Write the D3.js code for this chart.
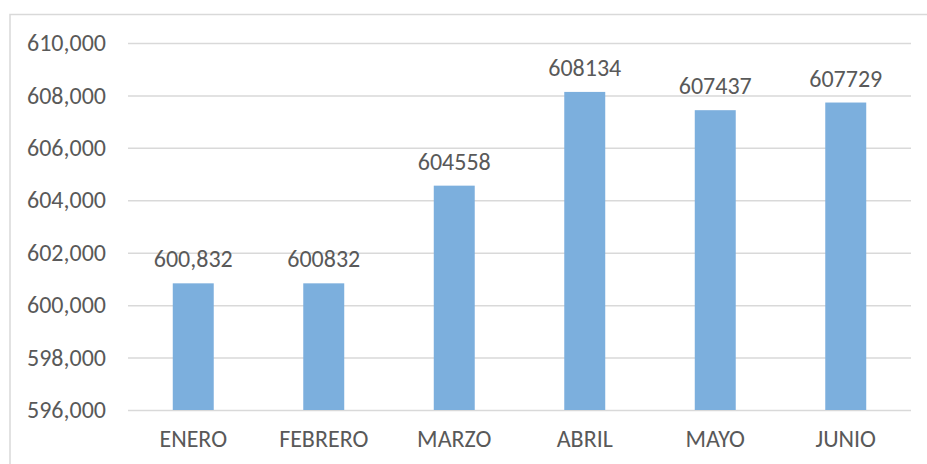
<!DOCTYPE html>
<html>
<head>
<meta charset="utf-8">
<script src="https://cdn.jsdelivr.net/npm/d3@7"></script>
<style>
  body { margin: 0; background: #fff; }
  svg text { font-family: Carlito, Calibri, Lato, "Open Sans", sans-serif; fill: #595959; }
</style>
</head>
<body>
<script>
// ventas por mes
var months = ['ENERO', 'FEBRERO', 'MARZO', 'ABRIL', 'MAYO', 'JUNIO'];
var values = [600832, 600832, 604558, 608134, 607437, 607729];
var valueLabels = ['600,832', '600832', '604558', '608134', '607437', '607729'];
var yTicks = [596000, 598000, 600000, 602000, 604000, 606000, 608000, 610000];

var width = 927, height = 464;
var plot = {left: 128, right: 911, top: 43, bottom: 410};

var svg = d3.select('body').append('svg')
    .attr('width', width)
    .attr('height', height);

// outer chart border
svg.append('rect')
    .attr('x', 10).attr('y', 14.5)
    .attr('width', 940).attr('height', 480)
    .attr('fill', 'none')
    .attr('stroke', '#d9d9d9')
    .attr('stroke-width', 1.5);

var x = d3.scaleBand()
    .domain(months)
    .range([plot.left, plot.right])
    .paddingInner(0.686)
    .paddingOuter(0.343);

var y = d3.scaleLinear()
    .domain([596000, 610000])
    .range([plot.bottom, plot.top]);

var fmt = d3.format(',');

// gridlines + y labels
var yAxis = d3.axisLeft(y)
    .tickValues(yTicks)
    .tickFormat(fmt)
    .tickSize(-(plot.right - plot.left))
    .tickPadding(22);

var gy = svg.append('g')
    .attr('transform', `translate(${plot.left},0)`)
    .call(yAxis);
gy.select('.domain').remove();
gy.selectAll('line').attr('stroke', '#d9d9d9').attr('stroke-width', 1.5);
gy.selectAll('text').style('font-size', '24px').attr('fill', '#595959');

// bars
svg.selectAll('.bar')
    .data(values)
    .enter().append('rect')
    .attr('class', 'bar')
    .attr('x', (d, i) => x(months[i]))
    .attr('y', d => y(d))
    .attr('width', x.bandwidth())
    .attr('height', d => plot.bottom - y(d))
    .attr('fill', '#7cafdd');

// value labels
svg.selectAll('.val')
    .data(values)
    .enter().append('text')
    .attr('class', 'val')
    .attr('x', (d, i) => x(months[i]) + x.bandwidth() / 2)
    .attr('y', d => y(d) - 16)
    .attr('text-anchor', 'middle')
    .style('font-size', '24px')
    .text((d, i) => valueLabels[i]);

// x axis labels
var xAxis = d3.axisBottom(x).tickSize(0).tickPadding(20);
var gx = svg.append('g')
    .attr('transform', `translate(0,${plot.bottom})`)
    .call(xAxis);
gx.select('.domain').remove();
gx.selectAll('text').style('font-size', '24px').attr('fill', '#595959');
</script>
</body>
</html>
